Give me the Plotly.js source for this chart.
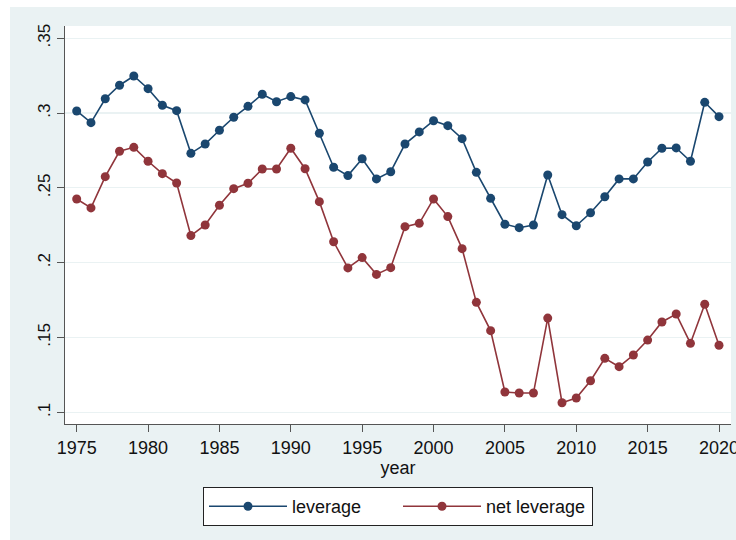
<!DOCTYPE html>
<html>
<head>
<meta charset="utf-8">
<script src="https://cdn.plot.ly/plotly-3.0.1.min.js"></script>
<style>
  html, body { margin: 0; padding: 0; background: #ffffff; }
  #chart { position: absolute; left: 10px; top: 7px; width: 726px; height: 533px; }
</style>
</head>
<body>
<div id="chart"></div>
<script>
const years = [1975,1976,1977,1978,1979,1980,1981,1982,1983,1984,1985,1986,1987,1988,1989,1990,1991,1992,1993,1994,1995,1996,1997,1998,1999,2000,2001,2002,2003,2004,2005,2006,2007,2008,2009,2010,2011,2012,2013,2014,2015,2016,2017,2018,2019,2020];

const leverage = [0.3014,0.2936,0.3096,0.3186,0.3248,0.3163,0.3052,0.3016,0.2731,0.2793,
                  0.2885,0.2972,0.3045,0.3126,0.3076,0.3110,0.3088,0.2865,0.2638,0.2582,
                  0.2695,0.2560,0.2608,0.2793,0.2874,0.2949,0.2916,0.2829,0.2604,0.2430,
                  0.2257,0.2234,0.2252,0.2586,0.2321,0.2247,0.2334,0.2441,0.2560,0.2560,
                  0.2673,0.2765,0.2767,0.2678,0.3072,0.2976];

const netLeverage = [0.2426,0.2366,0.2575,0.2745,0.2771,0.2678,0.2595,0.2533,0.2181,0.2252,
                     0.2384,0.2495,0.2531,0.2626,0.2626,0.2765,0.2628,0.2408,0.2140,0.1965,
                     0.2034,0.1922,0.1967,0.2241,0.2263,0.2426,0.2308,0.2094,0.1735,0.1546,
                     0.1136,0.1129,0.1129,0.1630,0.1064,0.1096,0.1211,0.1361,0.1305,0.1383,
                     0.1483,0.1604,0.1657,0.1461,0.1722,0.1448];

const seriesNames = ["leverage", "net leverage"];
const xTickVals = [1975,1980,1985,1990,1995,2000,2005,2010,2015,2020];
const yTickVals = [0.1,0.15,0.2,0.25,0.3,0.35];
const yTickText = [".1",".15",".2",".25",".3",".35"];
const xTitle = "year";

const NAVY = "#1a476f";
const MAROON = "#90353b";
const BG = "#eaf2f3";
const AXIS = "#555555";
const FONT = "Liberation Sans, Arial, sans-serif";

const traces = [
  {
    x: years, y: leverage, name: seriesNames[0],
    type: "scatter", mode: "lines+markers",
    line: { color: NAVY, width: 1.6 },
    marker: { color: NAVY, size: 9 }
  },
  {
    x: years, y: netLeverage, name: seriesNames[1],
    type: "scatter", mode: "lines+markers",
    line: { color: MAROON, width: 1.6 },
    marker: { color: MAROON, size: 9 }
  }
];

const layout = {
  width: 726, height: 533,
  paper_bgcolor: BG,
  plot_bgcolor: "#ffffff",
  margin: { l: 55, r: 5, t: 19, b: 116 },
  font: { family: FONT, color: "#111111", size: 17 },
  showlegend: true,
  xaxis: {
    range: [1974.18, 2020.84],
    tickvals: xTickVals,
    ticks: "outside", ticklen: 7, tickwidth: 1, tickcolor: AXIS,
    ticklabeloverflow: "allow",
    showline: true, linecolor: AXIS, linewidth: 1.3,
    showgrid: false, zeroline: false,
    tickfont: { size: 18, family: FONT, color: "#111111" },
    title: { text: xTitle, font: { size: 18, family: FONT, color: "#111111" }, standoff: 3 }
  },
  yaxis: {
    range: [0.0922, 0.3582],
    tickvals: yTickVals, ticktext: yTickText,
    tickangle: -90,
    ticks: "outside", ticklen: 7, tickwidth: 1, tickcolor: AXIS,
    showline: true, linecolor: AXIS, linewidth: 1.3,
    showgrid: true, gridcolor: BG, gridwidth: 1.2,
    zeroline: false,
    tickfont: { size: 17, family: FONT, color: "#111111" }
  },
  legend: {
    orientation: "h",
    x: 0.5, xanchor: "center",
    y: -0.1583, yanchor: "top",
    bgcolor: "#ffffff",
    bordercolor: "#222222", borderwidth: 1,
    font: { size: 18, family: FONT, color: "#111111" },
    itemwidth: 78,
    entrywidth: 101,
    traceorder: "normal"
  }
};

Plotly.newPlot("chart", traces, layout, { displayModeBar: false, staticPlot: true });
</script>
</body>
</html>
